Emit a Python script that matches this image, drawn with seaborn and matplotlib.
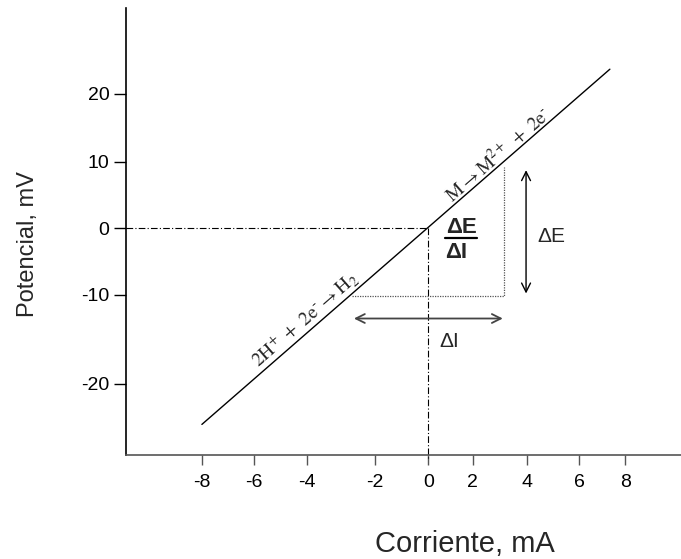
import numpy as np
import pandas as pd
import seaborn as sns
import matplotlib
matplotlib.use("Agg")
import matplotlib.pyplot as plt

sns.set_theme(style="ticks")
plt.rcParams["font.family"] = ["Liberation Sans", "DejaVu Sans"]
plt.rcParams["mathtext.fontset"] = "stix"

# ---- data ----
current_mA = [-8.57, 6.86]          # line end points, x
potential_mV = [-29.5, 23.9]        # line end points, y

x_tick_pos = [-8.57, -6.6, -4.6, -2.02, 0.0, 1.68, 3.73, 5.71, 7.45]
x_tick_labels = ["-8", "-6", "-4", "-2", "0", "2", "4", "6", "8"]
y_tick_pos = [20.2, 10.0, 0.0, -10.0, -23.4]
y_tick_labels = ["20", "10", "0", "-10", "-20"]

rect_x = [-2.9, 2.86]     # dotted triangle corners
rect_y = [-10.2, 9.2]
dE_arrow_x = 3.69
dE_arrow_y = [8.72, -9.82]
dI_arrow_y = -13.58
dI_arrow_x = [-2.82, 2.81]

df = pd.DataFrame({"I": current_mA, "E": potential_mV})

fig = plt.figure(figsize=(6.81, 5.59), dpi=100)
ax = fig.add_axes([126 / 681, 1 - 455 / 559, 1 - 126 / 681, (455 - 8) / 559])

sns.lineplot(data=df, x="I", y="E", ax=ax, color="black", lw=1.0)

ax.set_xlim(-11.44, 9.55)
ax.set_ylim(-34.1, 33.1)

# reference lines through the origin
ax.plot([-11.44, 0], [0, 0], color="black", lw=0.8, ls=(0, (6, 2, 1, 2)))
ax.plot([0, 0], [0, -34.8], color="black", lw=0.8, ls=(0, (6, 2, 1, 2)), clip_on=False)

# dotted triangle
ax.plot([rect_x[0], rect_x[1], rect_x[1]], [rect_y[0], rect_y[0], rect_y[1]],
        color="#555555", lw=0.9, ls=(0, (1, 1)))

# arrows
ax.annotate("", xy=(dE_arrow_x, dE_arrow_y[0]), xytext=(dE_arrow_x, dE_arrow_y[1]),
            arrowprops=dict(arrowstyle="<->", lw=1.0, color="black", mutation_scale=16,
                            shrinkA=0, shrinkB=0))
ax.annotate("", xy=(dI_arrow_x[0], dI_arrow_y), xytext=(dI_arrow_x[1], dI_arrow_y),
            arrowprops=dict(arrowstyle="<->", lw=1.3, color="#444444", mutation_scale=16,
                            shrinkA=0, shrinkB=0))

ax.text(4.63, -1.3, "ΔE", fontsize=15, ha="center", va="center")
ax.text(0.78, -17.1, "ΔI", fontsize=15, ha="center", va="center")

# fraction
ax.text(1.23, 0.1, "ΔE", fontsize=16, fontweight="bold", ha="center", va="center")
ax.plot([0.62, 1.85], [-1.5, -1.5], color="black", lw=1.6)
ax.text(0.62, -3.6, "ΔI", fontsize=16, fontweight="bold", ha="left", va="center")

# reaction labels along the line
ang = np.degrees(np.arctan(0.8694))
ax.text(-4.67, -13.7, r"$\mathrm{2H^{+}\ +\ 2e^{\text{-}}\rightarrow H_{2}}$", fontsize=14,
        rotation=ang, rotation_mode="anchor", ha="center", va="center")
ax.text(2.6, 11.1, r"$\mathrm{M\rightarrow M^{2+}\ +\ 2e^{\text{-}}}$", fontsize=14,
        rotation=ang, rotation_mode="anchor", ha="center", va="center")

# axes styling
sns.despine(ax=ax)
ax.spines["left"].set_color("black")
ax.spines["left"].set_linewidth(1.2)
ax.spines["bottom"].set_color("#555555")
ax.spines["bottom"].set_linewidth(1.2)

ax.set_xticks(x_tick_pos)
ax.set_xticklabels(x_tick_labels)
ax.set_yticks(y_tick_pos)
ax.set_yticklabels(y_tick_labels)
ax.tick_params(axis="x", length=7, width=1, color="#555555", pad=7, labelsize=14, labelcolor="black")
ax.tick_params(axis="y", length=9, width=1, color="black", pad=3, labelsize=14, labelcolor="black")
ax.set_xlabel("")
ax.set_ylabel("")

fig.text(28 / 681, 1 - 244 / 559, "Potencial, mV", rotation=90, fontsize=17,
         ha="center", va="center")
fig.text(465 / 681, 1 - 544 / 559, "Corriente, mA", fontsize=21, ha="center", va="center")

fig.savefig("out.png", dpi=100, facecolor="white")
